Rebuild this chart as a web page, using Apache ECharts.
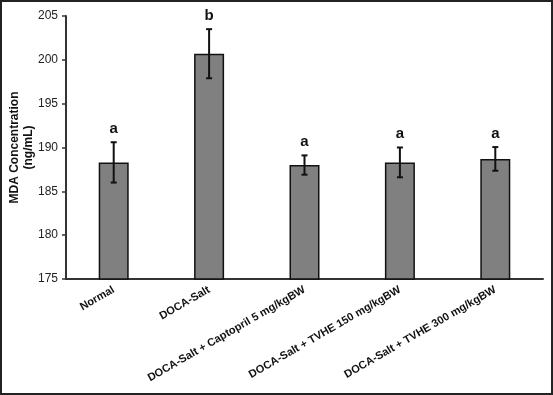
<!DOCTYPE html>
<html>
<head>
<meta charset="utf-8">
<script src="https://cdn.jsdelivr.net/npm/echarts@6/dist/echarts.min.js"></script>
<style>
  html, body { margin: 0; padding: 0; background: #fff; }
  #chart { width: 553px; height: 395px; box-sizing: border-box; border: 2px solid #222; }
</style>
</head>
<body>
<div id="chart"></div>
<script>
  // data
  const groups = ['Normal', 'DOCA-Salt', 'DOCA-Salt + Captopril 5 mg/kgBW', 'DOCA-Salt + TVHE 150 mg/kgBW', 'DOCA-Salt + TVHE 300 mg/kgBW'];
  const mda = [188.3, 200.7, 188.0, 188.3, 188.7];
  const sem = [2.3, 2.8, 1.1, 1.7, 1.35];
  const letters = ['a', 'b', 'a', 'a', 'a'];

  const chart = echarts.init(document.getElementById('chart'));

  const errData = mda.map((v, i) => [i, v - sem[i], v + sem[i]]);

  const option = {
    animation: false,
    grid: { left: 64, right: 8, top: 14, bottom: 114, outerBoundsMode: 'none', containLabel: false },
    xAxis: {
      type: 'category',
      data: groups,
      axisTick: { show: false },
      axisLine: { lineStyle: { color: '#333', width: 2 } },
      axisLabel: {
        rotate: 30,
        interval: 0,
        margin: 10,
        color: '#111',
        fontFamily: 'Liberation Sans, Arial',
        fontWeight: 'bold',
        fontSize: 11
      }
    },
    yAxis: {
      type: 'value',
      min: 175,
      max: 205,
      interval: 5,
      name: 'MDA Concentration\n(ng/mL)',
      nameLocation: 'middle',
      nameRotate: 90,
      nameGap: 30,
      nameMoveOverlap: false,
      nameTextStyle: {
        color: '#111',
        fontFamily: 'Liberation Sans, Arial',
        fontWeight: 'bold',
        fontSize: 12,
        lineHeight: 14
      },
      splitLine: { show: false },
      axisLine: { show: true, lineStyle: { color: '#333', width: 2 } },
      axisTick: { show: true, length: 4, lineStyle: { color: '#333', width: 1.5 } },
      axisLabel: {
        margin: 8,
        color: '#222',
        fontFamily: 'Liberation Sans, Arial',
        fontSize: 12
      }
    },
    series: [
      {
        type: 'bar',
        data: mda,
        barWidth: 30,
        itemStyle: { color: '#808080', borderColor: '#111', borderWidth: 1.5 }
      },
      {
        type: 'custom',
        data: errData,
        z: 10,
        renderItem: function (params, api) {
          const x = api.value(0);
          const lo = api.coord([x, api.value(1)]);
          const hi = api.coord([x, api.value(2)]);
          const cap = 3;
          const style = { stroke: '#111', lineWidth: 2 };
          return {
            type: 'group',
            children: [
              { type: 'line', shape: { x1: hi[0], y1: hi[1], x2: lo[0], y2: lo[1] }, style: style },
              { type: 'line', shape: { x1: hi[0] - cap, y1: hi[1], x2: hi[0] + cap, y2: hi[1] }, style: style },
              { type: 'line', shape: { x1: lo[0] - cap, y1: lo[1], x2: lo[0] + cap, y2: lo[1] }, style: style },
              {
                type: 'text',
                x: hi[0],
                y: hi[1] - 6,
                style: {
                  text: letters[params.dataIndex],
                  fill: '#111',
                  font: 'bold 15px Liberation Sans, Arial',
                  align: 'center',
                  verticalAlign: 'bottom'
                }
              }
            ]
          };
        }
      }
    ]
  };

  chart.setOption(option);
</script>
</body>
</html>
